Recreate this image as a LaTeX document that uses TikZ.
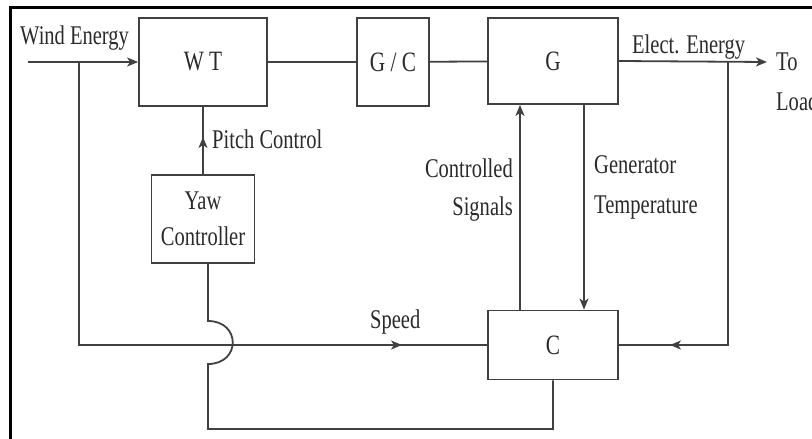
\documentclass[tikz,border=0pt]{standalone}
\usepackage{fontspec}
\setmainfont[FakeStretch=0.76]{Liberation Serif}
\usetikzlibrary{arrows.meta}
\definecolor{ln}{RGB}{64,64,64}
\definecolor{txc}{RGB}{42,42,42}
\begin{document}
\begin{tikzpicture}[x=1pt,y=-1pt,
  box/.style={draw=ln, line width=1.8pt, inner sep=0pt, text=txc, font=\fontsize{28}{36}\selectfont, align=center},
  lbl/.style={inner sep=0pt, text=txc, font=\fontsize{27}{38}\selectfont},
  wire/.style={draw=ln, line width=1.8pt},
  arr/.style={wire, -{Stealth[length=11pt,width=9pt,inset=3pt]}}]
\useasboundingbox (0,0) rectangle (812,439);
\fill[white] (0,0) rectangle (812,439);
\draw[black, line width=3pt] (10,440) -- (10,7) -- (813,7);
% boxes
\node[box, minimum width=128pt, minimum height=88pt] (WT) at (203,62) {W T};
\node[box, minimum width=72pt, minimum height=88pt] (GC) at (393,62) {G / C};
\node[box, minimum width=130pt, minimum height=86pt] (G) at (553,61) {G};
\node[box, minimum width=103pt, minimum height=88pt, font=\fontsize{27}{36}\selectfont] (Yaw) at (203,219) {Yaw\\Controller};
\node[box, minimum width=130pt, minimum height=69pt] (C) at (553,345) {C};
% coordinates
\coordinate (win) at (28,62);
\coordinate (wj) at (79,62);
\coordinate (wc) at (79,345);
\coordinate (sm) at (402,345);
\coordinate (out) at (767,62);
\coordinate (ej) at (728,62);
\coordinate (ec) at (728,345);
\coordinate (cm) at (670,345);
\coordinate (pm) at (203,137);
\coordinate (sx) at (520,0);
\coordinate (tmpx) at (584,0);
\coordinate (bl) at (208,429);
\coordinate (jlo) at (208,364);
\coordinate (jhi) at (208,321);
% connectors
\draw[arr] (win) -- (WT.west);
\draw[wire] (WT) -- (GC);
\draw[wire] (GC) -- (G);
\draw[arr] (G.east) -- (out);
\draw[wire] (wj) -- (wc) -- (C.west);
\draw[arr] (wc) -- (sm);
\draw[wire] (ej) -- (ec) -- (C.east);
\draw[arr] (ec) -- (cm);
\draw[wire] (Yaw.north) -- (WT.south);
\draw[arr] (Yaw.north) -- (pm);
\draw[arr] (C.north -| sx) -- (G.south -| sx);
\draw[arr] (G.south -| tmpx) -- (C.north -| tmpx);
\draw[wire] (C.south) |- (bl) -- (jlo) .. controls (241,364) and (241,321) .. (jhi) -- (Yaw.south -| bl);
% labels
\node[lbl, anchor=base west] at (20,45) {Wind Energy};
\node[lbl, anchor=base west] at (212,148) {Pitch Control};
\node[lbl, anchor=base east] at (513,177) {Controlled};
\node[lbl, anchor=base east] at (513,215) {Signals};
\node[lbl, anchor=base west] at (594,173) {Generator};
\node[lbl, anchor=base west] at (594,213) {Temperature};
\node[lbl, anchor=base west] at (370,328) {Speed};
\node[lbl, anchor=base west] at (632,53) {Elect. Energy};
\node[lbl, anchor=base west] at (776,70) {To};
\node[lbl, anchor=base west] at (776,110) {Load};
\end{tikzpicture}
\end{document}
